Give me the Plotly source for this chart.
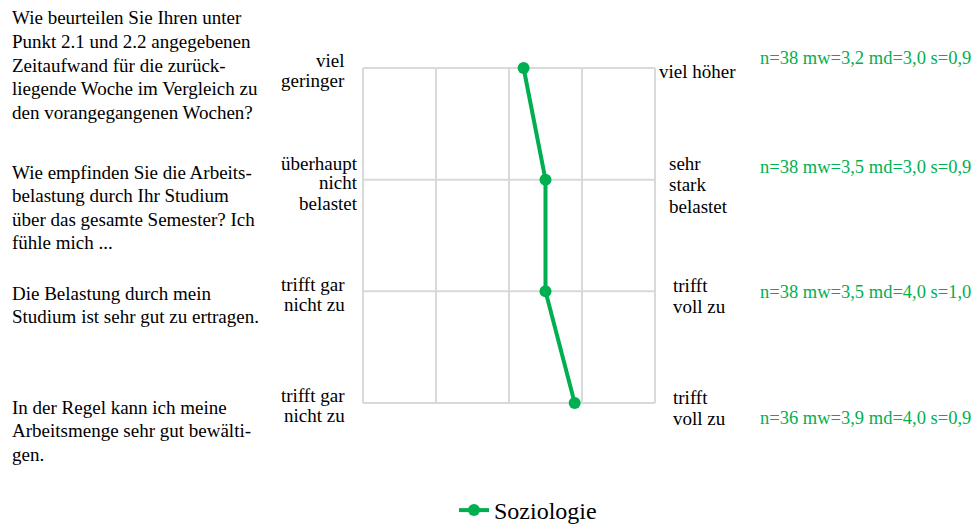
import plotly.graph_objects as go

# data
questions = [
    ["Wie beurteilen Sie Ihren unter", "Punkt 2.1 und 2.2 angegebenen", "Zeitaufwand für die zurück-",
     "liegende Woche im Vergleich zu", "den vorangegangenen Wochen?"],
    ["Wie empfinden Sie die Arbeits-", "belastung durch Ihr Studium", "über das gesamte Semester? Ich",
     "fühle mich ..."],
    ["Die Belastung durch mein", "Studium ist sehr gut zu ertragen."],
    ["In der Regel kann ich meine", "Arbeitsmenge sehr gut bewälti-", "gen."],
]
left_labels = [["viel", "geringer"], ["überhaupt", "nicht", "belastet"],
               ["trifft gar", "nicht zu"], ["trifft gar", "nicht zu"]]
right_labels = [["viel höher"], ["sehr", "stark", "belastet"],
                ["trifft", "voll zu"], ["trifft", "voll zu"]]
rows = [0, 1, 2, 3]
scale = [1, 2, 3, 4, 5]
mw = [3.2, 3.5, 3.5, 3.9]
n = [38, 38, 38, 36]
md = [3.0, 3.0, 4.0, 4.0]
s = [0.9, 0.9, 1.0, 0.9]
series_name = "Soziologie"

GREEN = "rgb(0,176,80)"
GRID = "#d9d9d9"
FONT = "Liberation Serif, Times New Roman, serif"
W, H = 975, 525


def fx(px):
    return px / W


def fy(py):
    return 1 - py / H


def add_block(fig, lines, x, y0, step, xanchor, color="black", size=19):
    # one annotation per line so the line spacing can be set
    for i, line in enumerate(lines):
        fig.add_annotation(text=line, xref="paper", yref="paper", x=fx(x), y=fy(y0 + i * step),
                           xanchor=xanchor, yanchor="middle", showarrow=False,
                           font=dict(family=FONT, size=size, color=color))


def fmt(v):
    return f"{v:.1f}".replace(".", ",")


fig = go.Figure()
fig.add_trace(go.Scatter(x=mw, y=rows, mode="lines+markers", name=series_name,
                         line=dict(color=GREEN, width=4),
                         marker=dict(color=GREEN, size=12)))

# grid drawn as shapes so the ranges can be padded (markers on the edge rows)
for v in scale:
    fig.add_shape(type="line", xref="x", yref="y", x0=v, x1=v, y0=rows[0], y1=rows[-1],
                  line=dict(color=GRID, width=2), layer="below")
for r in rows:
    fig.add_shape(type="line", xref="x", yref="y", x0=scale[0], x1=scale[-1], y0=r, y1=r,
                  line=dict(color=GRID, width=2), layer="below")

# text layout
q_top = [18, 172, 293, 407]
ll_top = [61, 163, 284, 395]
ll_right = [347, 360, 347, 347]
rl_top = [72, 163, 285, 397]
rl_left = [657, 667, 671, 671]
st_y = [58, 167, 292, 418]

for i in range(len(rows)):
    add_block(fig, questions[i], 10, q_top[i], 23.5, "left")
    add_block(fig, left_labels[i], ll_right[i], ll_top[i], 20, "right")
    add_block(fig, right_labels[i], rl_left[i], rl_top[i], 21.5, "left")
    stat = f"n={n[i]} mw={fmt(mw[i])} md={fmt(md[i])} s={fmt(s[i])}"
    add_block(fig, [stat], 758, st_y[i], 0, "left", color=GREEN, size=18.5)

# plot box: scale 1..5 -> px 363..655, rows 0..3 -> px 68..403, padded
pad = 0.15
x_l, x_r = 363, 655
y_t, y_b = 68, 403
ux = (x_r - x_l) / (scale[-1] - scale[0])
uy = (y_b - y_t) / (rows[-1] - rows[0])

fig.update_layout(
    width=W, height=H,
    margin=dict(l=0, r=0, t=0, b=0, autoexpand=False),
    paper_bgcolor="white", plot_bgcolor="white",
    font=dict(family=FONT, color="black"),
    xaxis=dict(domain=[fx(x_l - pad * ux), fx(x_r + pad * ux)],
               range=[scale[0] - pad, scale[-1] + pad], visible=False, fixedrange=True),
    yaxis=dict(domain=[fy(y_b + pad * uy), fy(y_t - pad * uy)],
               range=[rows[-1] + pad, rows[0] - pad], visible=False, fixedrange=True),
    showlegend=True,
    legend=dict(orientation="h", x=fx(528), xanchor="center", y=fy(533), yanchor="bottom",
                font=dict(family=FONT, size=24, color="black"), bgcolor="rgba(0,0,0,0)"),
)

fig.write_html("out.html", config={"displayModeBar": False},
               post_script="document.body.style.margin='0';document.body.style.overflow='hidden';")
